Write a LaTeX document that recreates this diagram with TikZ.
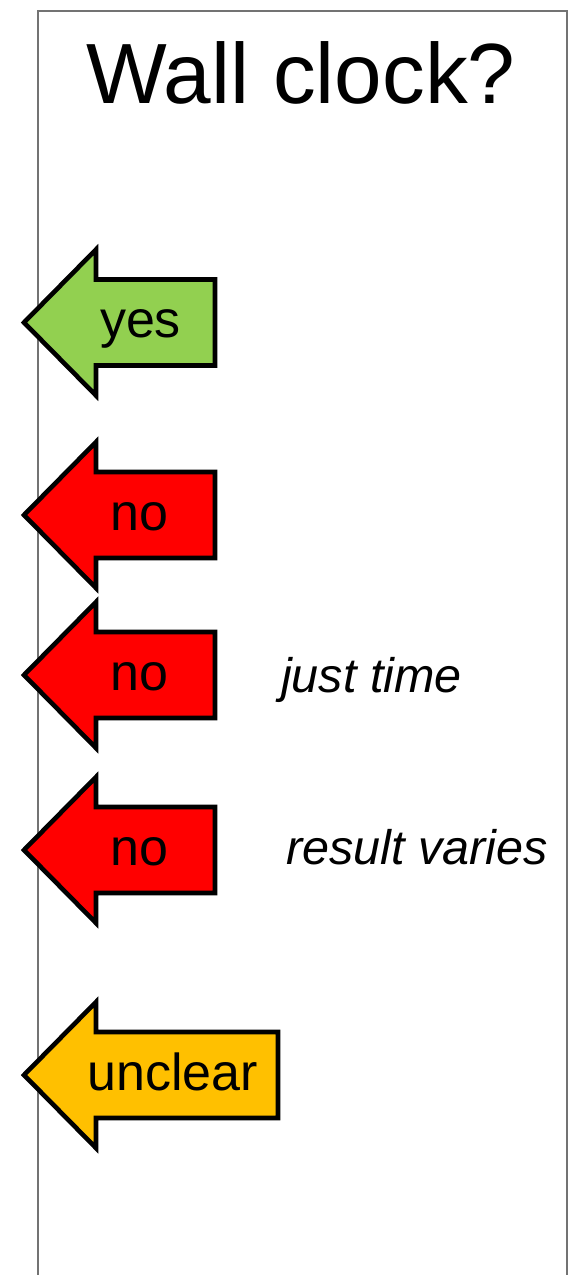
\documentclass[tikz,border=0pt]{standalone}
\usepackage{fontspec}
\setmainfont{Liberation Sans}
\definecolor{yesgreen}{HTML}{92D050}
\definecolor{nored}{HTML}{FF0000}
\definecolor{unclearorange}{HTML}{FFC000}
\newcommand{\leftarrowshape}[3]{% #1 colour, #2 centre y, #3 right x
  \filldraw[arrowbody, fill=#1] (24,#2) -- (96,#2+73) -- (96,#2+43) -- (#3,#2+43)
    -- (#3,#2-43) -- (96,#2-43) -- (96,#2-73) -- cycle;}
\begin{document}
\begin{tikzpicture}[x=1pt,y=-1pt,
  arrowbody/.style={draw=black, line width=4.6pt, line join=miter},
  arrowtext/.style={inner sep=0pt, anchor=base, font=\fontsize{52}{60}\selectfont},
  sidenote/.style={inner sep=0pt, anchor=base west, font=\fontsize{48.5}{56}\selectfont\itshape},
  frameline/.style={draw=black!55, line width=1.3pt}]
\useasboundingbox (0,0) rectangle (580,1275);
\draw[frameline] (38,1276) -- (38,11) -- (567,11) -- (567,1276);
\node[inner sep=0pt, anchor=base, font=\fontsize{85.5}{100}\selectfont] (title) at (301,103) {Wall clock?};
\leftarrowshape{yesgreen}{322.5}{215}
\node[arrowtext] (yes) at (140.5,337.5) {yes};
\leftarrowshape{nored}{515}{215}
\node[arrowtext] (no1) at (139.5,530) {no};
\leftarrowshape{nored}{675}{215}
\node[arrowtext] (no2) at (139.5,690) {no};
\leftarrowshape{nored}{850}{215}
\node[arrowtext] (no3) at (139.5,865) {no};
\leftarrowshape{unclearorange}{1075}{278}
\node[arrowtext] (unclear) at (172.5,1090) {unclear};
\node[sidenote] (justtime) at (281,692) {just time};
\node[sidenote] (varies) at (286,864) {result varies};
\end{tikzpicture}
\end{document}
